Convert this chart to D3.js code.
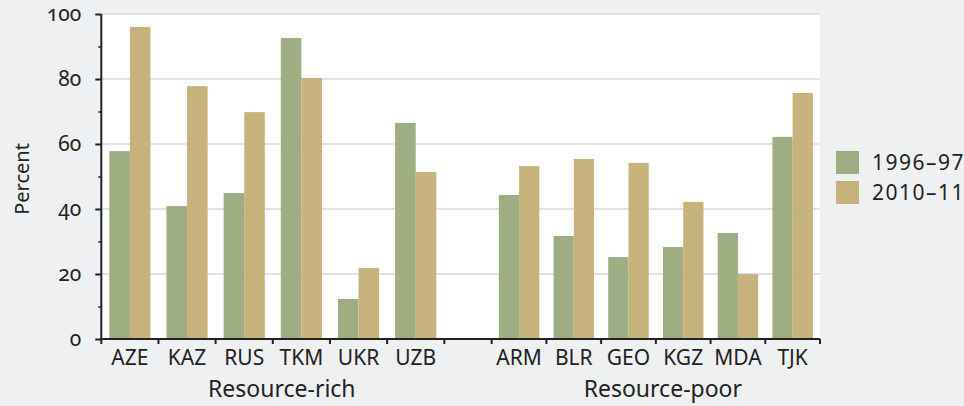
<!DOCTYPE html>
<html>
<head>
<meta charset="utf-8">
<script src="https://cdn.jsdelivr.net/npm/d3@7"></script>
<style>
  body { margin: 0; background: #eff0f2; }
  svg { display: block; }
  svg text { font-family: "Noto Sans", "Open Sans", sans-serif; }
  .y.axis text { font-feature-settings: "onum" 1; }
</style>
</head>
<body>
<div id="chart"></div>
<script>
// data
var richCountries = ["AZE", "KAZ", "RUS", "TKM", "UKR", "UZB"];
var poorCountries = ["ARM", "BLR", "GEO", "KGZ", "MDA", "TJK"];
var groupLabels = ["Resource-rich", "Resource-poor"];
var seriesNames = ["1996\u201397", "2010\u201311"];
var rich1996 = [57.8, 40.9, 44.9, 92.6, 12.3, 66.5];
var rich2010 = [96.0, 77.8, 69.8, 80.3, 21.8, 51.4];
var poor1996 = [44.3, 31.7, 25.2, 28.3, 32.6, 62.2];
var poor2010 = [53.2, 55.4, 54.2, 42.2, 20.0, 75.7];
var yTicks = [0, 20, 40, 60, 80, 100];
var yMinorTicks = [10, 30, 50, 70, 90];

var width = 964, height = 406;
var plot = {left: 101.3, right: 820, top: 14, bottom: 339};
var gapStart = 444.3, gapEnd = 491.7;

var color = d3.scaleOrdinal()
  .domain(seriesNames)
  .range(["#9fae82", "#c5b37b"]);

var svg = d3.select("#chart").append("svg")
  .attr("width", width)
  .attr("height", height);

var yScale = d3.scaleLinear()
  .domain([0, 100])
  .range([plot.bottom, plot.top]);

// one band scale per group (the two groups are spaced slightly differently)
var groups = [
  {label: groupLabels[0], countries: richCountries, s1: rich1996, s2: rich2010, shift: 9,
   scale: d3.scaleBand().domain(richCountries).range([plot.left, gapStart]).paddingInner(0.28).paddingOuter(0.14)},
  {label: groupLabels[1], countries: poorCountries, s1: poor1996, s2: poor2010, shift: 7,
   scale: d3.scaleBand().domain(poorCountries).range([gapEnd, plot.right]).paddingInner(0.26).paddingOuter(0.13)}
];

// white plot area
svg.append("rect")
  .attr("x", plot.left)
  .attr("y", plot.top)
  .attr("width", plot.right - plot.left)
  .attr("height", plot.bottom - plot.top)
  .attr("fill", "#fff");

// gridlines
svg.append("g")
  .selectAll("line")
  .data(yTicks.filter(d => d > 0))
  .join("line")
    .attr("x1", plot.left)
    .attr("x2", plot.right)
    .attr("y1", d => yScale(d))
    .attr("y2", d => yScale(d))
    .attr("stroke", "#d9d9d9")
    .attr("stroke-width", 1.6);

// bars
groups.forEach(function(g) {
  var x1 = d3.scaleBand()
    .domain(seriesNames)
    .range([0, g.scale.bandwidth()]);
  var rows = g.countries.map((c, i) => ({country: c, values: [g.s1[i], g.s2[i]]}));
  svg.append("g")
    .selectAll("g")
    .data(rows)
    .join("g")
      .attr("transform", d => `translate(${g.scale(d.country)},0)`)
    .selectAll("rect")
    .data(d => d.values.map((v, j) => ({key: seriesNames[j], value: v})))
    .join("rect")
      .attr("x", d => x1(d.key))
      .attr("y", d => yScale(d.value))
      .attr("width", x1.bandwidth())
      .attr("height", d => yScale(0) - yScale(d.value))
      .attr("fill", d => color(d.key));
});

// y axis
var yAxis = d3.axisLeft(yScale)
  .tickValues(yTicks)
  .tickSize(6)
  .tickPadding(14);

var yAxisG = svg.append("g")
  .attr("class", "y axis")
  .attr("transform", `translate(${plot.left},0)`)
  .call(yAxis)
  .attr("font-family", null);
yAxisG.select(".domain").remove();
yAxisG.selectAll("line").attr("stroke", "#222").attr("stroke-width", 2);
yAxisG.selectAll("text")
  .style("font-size", "21px")
  .attr("dy", "0.3em")
  .attr("fill", "#222");

svg.append("g")
  .attr("transform", `translate(${plot.left},0)`)
  .call(d3.axisLeft(yScale).tickValues(yMinorTicks).tickSize(3).tickFormat(""))
  .call(g => g.select(".domain").remove())
  .selectAll("line").attr("stroke", "#222").attr("stroke-width", 1.5);

svg.append("line")
  .attr("x1", plot.left).attr("x2", plot.left)
  .attr("y1", plot.top).attr("y2", plot.bottom)
  .attr("stroke", "#222").attr("stroke-width", 2);

// x axis
groups.forEach(function(g) {
  var xAxis = d3.axisBottom(g.scale).tickSize(0).tickPadding(11);
  var xg = svg.append("g")
    .attr("class", "x axis")
    .attr("transform", `translate(0,${plot.bottom})`)
    .call(xAxis)
    .attr("font-family", null);
  xg.select(".domain").remove();
  xg.selectAll("text")
    .style("font-size", "21px")
    .attr("fill", "#222");

  // ticks at band edges
  var edges = g.countries.map(c => g.scale(c) - g.scale.step() * g.scale.paddingInner() / 2);
  edges.push(g.scale.range()[1]);
  svg.append("g")
    .selectAll("line")
    .data(edges)
    .join("line")
      .attr("x1", d => d).attr("x2", d => d)
      .attr("y1", plot.bottom).attr("y2", plot.bottom + 5)
      .attr("stroke", "#222").attr("stroke-width", 2);

  var r = g.scale.range();
  svg.append("text")
    .attr("x", (r[0] + r[1]) / 2 + g.shift)
    .attr("y", 397)
    .attr("text-anchor", "middle")
    .style("font-size", "23px")
    .attr("fill", "#222")
    .text(g.label);
});

svg.append("line")
  .attr("x1", plot.left - 1).attr("x2", plot.right)
  .attr("y1", plot.bottom).attr("y2", plot.bottom)
  .attr("stroke", "#222").attr("stroke-width", 2);

// y title
svg.append("text")
  .attr("transform", `translate(29,179) rotate(-90)`)
  .attr("text-anchor", "middle")
  .style("font-size", "20px")
  .attr("fill", "#222")
  .text("Percent");

// legend
var legend = svg.append("g")
  .selectAll("g")
  .data(seriesNames)
  .join("g")
    .attr("transform", (d, i) => `translate(836,${151 + i * 30})`);

legend.append("rect")
  .attr("width", 23)
  .attr("height", 23)
  .attr("fill", d => color(d));

legend.append("text")
  .attr("x", 36)
  .attr("y", 18.5)
  .style("font-size", "21px")
  .style("letter-spacing", "1.5px")
  .attr("fill", "#222")
  .text(d => d);
</script>
</body>
</html>
